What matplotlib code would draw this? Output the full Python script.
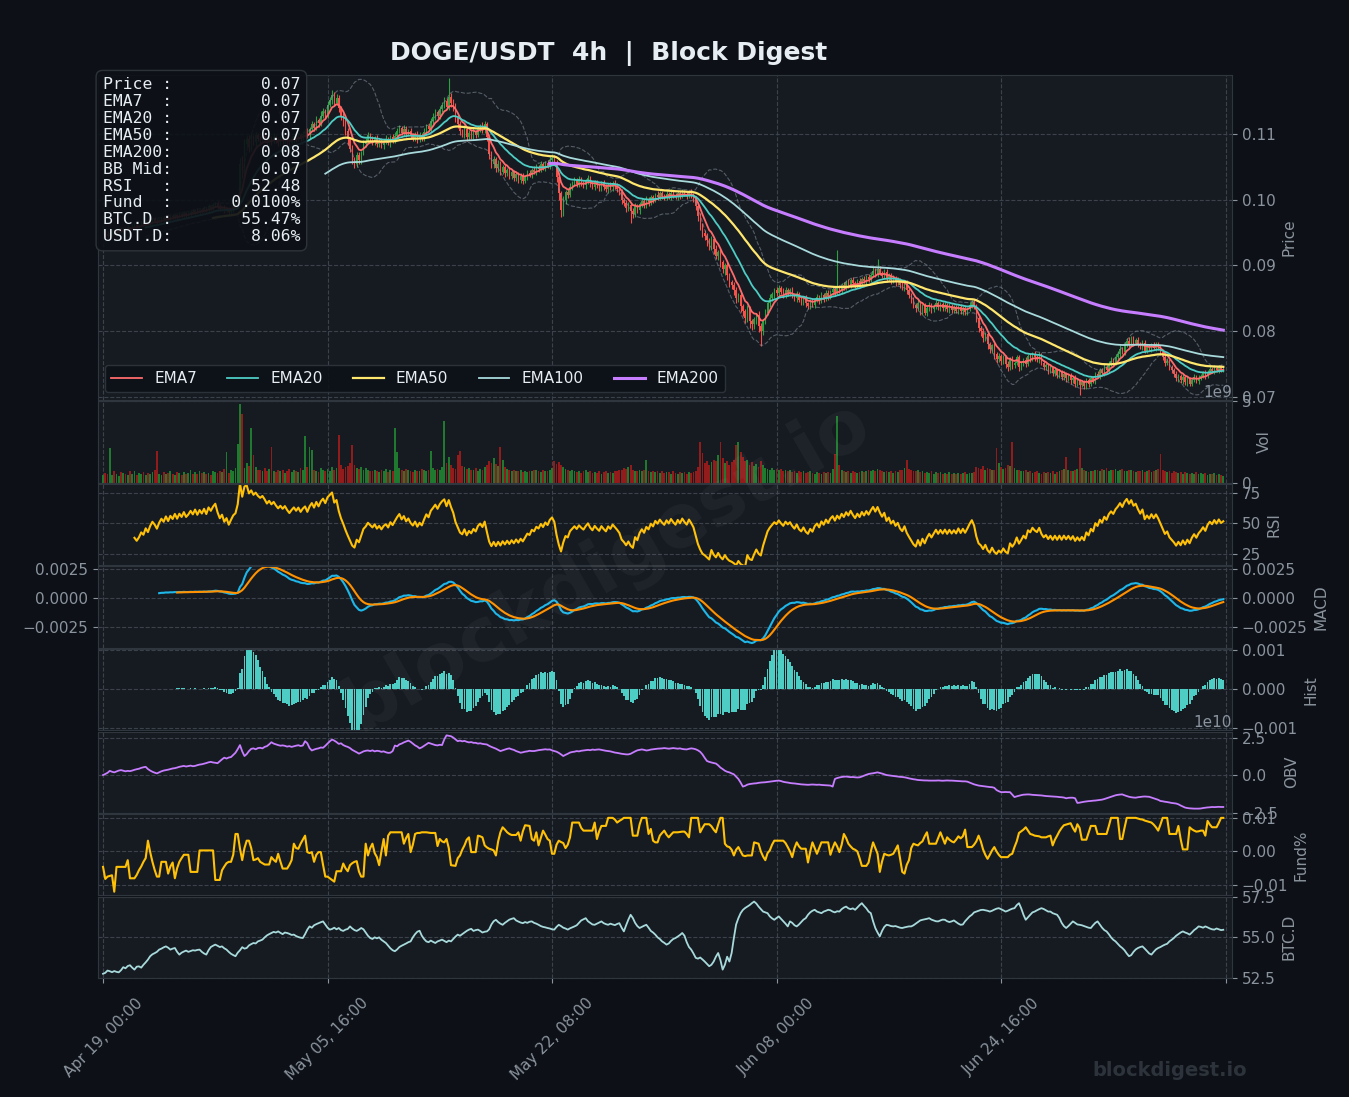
"""
DOGE/USDT 4h dashboard in the Block Digest dark style.

Candles with EMAs and Bollinger bands on top, then volume, RSI, MACD,
MACD histogram, OBV, funding rate and BTC dominance panels.
"""

import numpy as np
import pandas as pd
import matplotlib.pyplot as plt
from matplotlib.gridspec import GridSpec

BG = '#0d1117'
PANEL = '#161b22'
EDGE = '#30363d'
GRID = '#3b424b'
MUTED = '#8b949e'
TEXT = '#e6edf3'
UP = '#2ea043'
DOWN = '#f85149'
VOL_UP = '#1f7a30'
VOL_DOWN = '#921c1c'

START = '2025-04-19 00:00'

# close price, 1e-4 USDT
CLOSE_E4 = [
    952, 948, 945, 950, 953, 949, 951, 955, 953, 957,
    955, 958, 956, 960, 962, 959, 961, 964, 962, 966,
    963, 967, 970, 968, 965, 969, 972, 970, 974, 971,
    975, 973, 977, 974, 978, 976, 980, 977, 979, 982,
    980, 984, 981, 985, 983, 987, 984, 990, 988, 992,
    995, 990, 986, 989, 984, 987, 982, 986, 990, 992,
    1002, 1055, 1040, 1085, 1092, 1080, 1095, 1088, 1098, 1093,
    1090, 1097, 1092, 1086, 1094, 1089, 1096, 1091, 1087, 1093,
    1089, 1095, 1090, 1086, 1092, 1097, 1093, 1099, 1094, 1100,
    1104, 1098, 1108, 1115, 1110, 1122, 1117, 1128, 1135, 1130,
    1145, 1152, 1160, 1148, 1155, 1140, 1128, 1118, 1105, 1092,
    1078, 1062, 1055, 1068, 1060, 1072, 1085, 1090, 1098, 1093,
    1088, 1094, 1085, 1090, 1083, 1089, 1092, 1086, 1095, 1090,
    1097, 1104, 1110, 1102, 1108, 1100, 1105, 1098, 1094, 1100,
    1092, 1098, 1094, 1103, 1112, 1108, 1120, 1126, 1133, 1128,
    1138, 1145, 1150, 1142, 1157, 1148, 1140, 1125, 1115, 1104,
    1100, 1108, 1095, 1102, 1097, 1104, 1099, 1108, 1112, 1106,
    1115, 1095, 1070, 1055, 1062, 1048, 1055, 1043, 1050, 1040,
    1046, 1036, 1042, 1033, 1039, 1030, 1036, 1029, 1035, 1041,
    1038, 1046, 1043, 1050, 1047, 1054, 1049, 1056, 1052, 1060,
    1064, 1058, 1035, 1010, 985, 1000, 1012, 1008, 1020, 1025,
    1030, 1024, 1031, 1026, 1022, 1028, 1033, 1025, 1020, 1027,
    1022, 1018, 1025, 1020, 1016, 1023, 1019, 1025, 1021, 1017,
    1012, 1000, 995, 988, 992, 983, 978, 990, 984, 993,
    998, 992, 1000, 996, 1004, 1000, 1008, 1004, 1010, 1006,
    1003, 1009, 1005, 1011, 1007, 1004, 1010, 1006, 1012, 1008,
    1005, 1011, 1007, 1002, 990, 975, 962, 950, 945, 938,
    930, 940, 925, 915, 920, 905, 895, 900, 885, 875,
    870, 862, 850, 855, 838, 830, 820, 835, 815, 810,
    818, 825, 808, 800, 815, 828, 842, 850, 856, 862,
    858, 866, 860, 855, 863, 858, 862, 855, 850, 857,
    848, 844, 850, 842, 838, 845, 840, 848, 852, 846,
    855, 850, 858, 853, 860, 864, 858, 866, 862, 870,
    866, 874, 870, 878, 873, 869, 876, 872, 880, 876,
    883, 879, 886, 892, 887, 895, 889, 884, 890, 880,
    885, 877, 881, 874, 878, 870, 866, 872, 862, 855,
    848, 840, 835, 842, 830, 838, 828, 835, 840, 833,
    838, 843, 836, 841, 835, 840, 833, 838, 832, 836,
    831, 837, 830, 835, 829, 834, 840, 845, 838, 820,
    805, 800, 790, 795, 780, 772, 778, 765, 758, 762,
    755, 760, 750, 745, 757, 748, 752, 760, 745, 750,
    756, 750, 762, 758, 765, 760, 757, 763, 752, 745,
    748, 740, 744, 736, 741, 733, 738, 730, 735, 728,
    732, 725, 729, 720, 724, 718, 722, 716, 725, 720,
    728, 724, 735, 731, 740, 736, 745, 741, 750, 755,
    752, 760, 765, 772, 768, 778, 785, 780, 788, 782,
    786, 780, 775, 782, 770, 776, 772, 779, 774, 780,
    775, 768, 760, 752, 755, 745, 740, 735, 728, 732,
    725, 730, 722, 727, 720, 726, 730, 724, 729, 732,
    736, 731, 738, 742, 739, 744, 740, 745, 741, 743,
]

# wick above the body / below the body, 1e-4 USDT
WICK_UP_E4 = [
    3, 2, 4, 1, 3, 2, 5, 2, 3, 1,
    2, 4, 1, 3, 2, 3, 1, 4, 2, 3,
    3, 1, 2, 4, 3, 2, 1, 3, 2, 4,
    2, 3, 1, 2, 4, 2, 3, 1, 3, 2,
    4, 2, 3, 1, 2, 3, 2, 4, 1, 3,
    2, 3, 4, 2, 3, 1, 2, 3, 4, 5,
    6, 9, 12, 8, 5, 7, 6, 4, 5, 3,
    4, 3, 5, 2, 4, 3, 6, 2, 3, 4,
    3, 2, 4, 3, 5, 2, 3, 4, 2, 5,
    4, 6, 3, 5, 4, 6, 3, 7, 5, 4,
    6, 5, 7, 4, 6, 5, 3, 4, 6, 5,
    4, 6, 3, 5, 4, 3, 6, 4, 5, 3,
    4, 3, 5, 2, 4, 3, 6, 3, 4, 5,
    6, 5, 4, 3, 6, 4, 3, 5, 4, 3,
    4, 5, 3, 6, 4, 5, 4, 6, 5, 4,
    5, 4, 6, 5, 28, 6, 5, 7, 4, 5,
    4, 6, 3, 5, 4, 6, 3, 5, 4, 6,
    5, 4, 3, 5, 4, 3, 5, 4, 3, 4,
    3, 4, 5, 3, 4, 3, 5, 4, 3, 4,
    4, 3, 5, 4, 3, 5, 4, 3, 5, 6,
    5, 4, 3, 5, 4, 6, 3, 4, 5, 3,
    4, 3, 5, 4, 3, 4, 5, 3, 4, 3,
    3, 4, 3, 5, 4, 3, 4, 3, 5, 4,
    3, 4, 3, 5, 4, 3, 4, 5, 3, 4,
    4, 3, 5, 4, 3, 4, 3, 5, 4, 3,
    3, 4, 3, 5, 3, 4, 3, 4, 5, 3,
    4, 3, 5, 4, 3, 4, 5, 3, 4, 5,
    4, 5, 3, 6, 4, 5, 3, 4, 5, 4,
    3, 4, 5, 3, 4, 3, 4, 5, 3, 4,
    4, 3, 5, 4, 3, 5, 4, 6, 3, 4,
    5, 4, 3, 5, 4, 3, 4, 5, 3, 4,
    3, 4, 3, 5, 3, 4, 5, 3, 4, 3,
    4, 3, 5, 4, 3, 4, 5, 58, 4, 3,
    4, 3, 5, 3, 4, 3, 4, 5, 3, 4,
    3, 4, 3, 5, 4, 15, 4, 3, 5, 4,
    3, 4, 5, 3, 4, 3, 4, 3, 5, 4,
    3, 4, 3, 5, 4, 3, 4, 3, 4, 3,
    3, 4, 3, 4, 3, 5, 3, 4, 3, 4,
    4, 3, 4, 3, 5, 3, 4, 3, 4, 3,
    4, 3, 5, 4, 3, 4, 3, 4, 3, 4,
    3, 4, 3, 4, 3, 5, 3, 4, 3, 4,
    3, 4, 3, 4, 3, 4, 3, 5, 3, 4,
    3, 3, 4, 3, 4, 3, 4, 3, 4, 3,
    3, 4, 3, 4, 3, 3, 4, 3, 4, 3,
    3, 4, 3, 4, 3, 4, 5, 3, 4, 5,
    4, 5, 4, 6, 4, 5, 4, 6, 4, 5,
    4, 5, 4, 5, 4, 5, 4, 3, 4, 3,
    4, 3, 4, 3, 4, 3, 4, 3, 4, 3,
    3, 4, 3, 4, 3, 3, 4, 3, 4, 3,
    3, 4, 3, 4, 3, 4, 3, 4, 3, 2,
]
WICK_DN_E4 = [
    2, 4, 3, 2, 5, 3, 2, 4, 2, 3,
    3, 2, 4, 2, 3, 2, 4, 3, 2, 3,
    2, 3, 4, 2, 3, 1, 3, 2, 4, 2,
    3, 2, 3, 4, 2, 3, 2, 3, 2, 4,
    2, 3, 2, 4, 3, 2, 3, 2, 4, 3,
    3, 4, 2, 3, 4, 3, 5, 3, 4, 3,
    4, 5, 6, 4, 5, 7, 5, 4, 6, 4,
    5, 4, 3, 5, 4, 5, 3, 4, 5, 4,
    4, 3, 5, 4, 3, 4, 5, 3, 4, 3,
    5, 4, 6, 4, 5, 4, 6, 5, 4, 6,
    5, 4, 6, 5, 4, 7, 6, 5, 7, 8,
    6, 8, 7, 5, 6, 5, 4, 5, 4, 5,
    4, 5, 4, 5, 4, 5, 4, 3, 5, 4,
    4, 5, 3, 4, 5, 4, 3, 5, 4, 5,
    5, 4, 5, 4, 5, 4, 5, 4, 5, 4,
    5, 4, 5, 4, 5, 6, 5, 7, 6, 5,
    5, 6, 5, 4, 5, 4, 5, 4, 5, 4,
    5, 6, 8, 7, 6, 5, 6, 5, 4, 5,
    4, 5, 4, 5, 4, 5, 4, 5, 4, 5,
    4, 5, 4, 5, 4, 5, 4, 5, 4, 5,
    4, 5, 8, 10, 11, 9, 6, 5, 4, 5,
    4, 5, 4, 5, 4, 5, 4, 5, 4, 5,
    4, 5, 4, 5, 4, 5, 4, 5, 4, 5,
    5, 6, 5, 7, 5, 18, 6, 5, 4, 5,
    4, 5, 4, 5, 4, 5, 4, 5, 4, 5,
    4, 3, 4, 5, 4, 3, 4, 5, 4, 3,
    4, 3, 4, 5, 6, 7, 8, 6, 7, 8,
    6, 7, 8, 6, 7, 8, 6, 9, 7, 8,
    6, 7, 8, 6, 9, 7, 8, 6, 10, 8,
    7, 8, 9, 23, 6, 5, 4, 5, 4, 5,
    4, 5, 4, 5, 4, 5, 4, 5, 4, 5,
    4, 5, 4, 5, 4, 5, 4, 5, 4, 5,
    4, 5, 4, 5, 4, 5, 4, 3, 4, 5,
    4, 3, 4, 5, 4, 3, 4, 5, 4, 3,
    4, 5, 4, 3, 4, 5, 4, 3, 4, 5,
    4, 5, 4, 5, 4, 5, 4, 5, 6, 5,
    6, 5, 6, 5, 6, 5, 4, 5, 4, 5,
    4, 5, 4, 5, 4, 5, 4, 5, 4, 5,
    4, 5, 4, 5, 4, 5, 4, 5, 4, 6,
    6, 7, 6, 5, 7, 6, 5, 7, 6, 5,
    6, 5, 7, 6, 5, 6, 5, 4, 6, 5,
    4, 5, 4, 5, 4, 5, 4, 5, 4, 5,
    4, 5, 4, 5, 4, 5, 4, 5, 4, 5,
    4, 5, 4, 5, 4, 15, 4, 5, 4, 5,
    4, 3, 4, 3, 4, 3, 4, 3, 4, 3,
    3, 4, 3, 4, 3, 4, 3, 4, 3, 4,
    3, 4, 3, 4, 3, 4, 3, 4, 3, 4,
    4, 5, 4, 5, 4, 5, 4, 5, 4, 5,
    4, 5, 4, 5, 4, 3, 4, 3, 4, 3,
    3, 4, 3, 4, 3, 4, 3, 4, 3, 3,
]

# volume, 1e7 DOGE
VOLUME_E7 = [
    45, 60, 52, 210, 48, 70, 55, 40, 62, 58,
    50, 45, 68, 55, 72, 48, 60, 52, 66, 45,
    58, 50, 62, 75, 195, 55, 48, 65, 52, 60,
    70, 55, 48, 62, 58, 45, 66, 52, 60, 80,
    55, 62, 50, 70, 58, 65, 52, 60, 48, 72,
    65, 58, 70, 62, 85, 190, 60, 75, 68, 90,
    240, 484, 420, 90, 120, 100, 335, 170, 95, 80,
    75, 68, 90, 72, 85, 220, 70, 62, 80, 68,
    75, 60, 72, 85, 65, 78, 70, 62, 88, 75,
    284, 95, 220, 200, 80, 72, 65, 90, 78, 70,
    85, 72, 95, 80, 90, 290, 110, 85, 95, 100,
    120, 230, 105, 90, 85, 95, 80, 88, 75, 70,
    68, 80, 72, 65, 78, 70, 85, 62, 75, 68,
    335, 190, 90, 80, 72, 85, 78, 70, 65, 80,
    72, 68, 85, 75, 70, 80, 195, 90, 78, 85,
    80, 95, 377, 120, 160, 110, 90, 85, 170, 195,
    100, 95, 85, 90, 80, 75, 88, 70, 82, 78,
    95, 110, 130, 120, 150, 115, 100, 216, 140, 95,
    85, 78, 70, 80, 72, 68, 75, 62, 70, 65,
    72, 68, 75, 80, 70, 65, 78, 72, 68, 80,
    90, 130, 115, 125, 110, 95, 85, 80, 72, 78,
    70, 65, 72, 60, 68, 75, 62, 70, 58, 65,
    60, 68, 55, 62, 70, 58, 65, 60, 72, 68,
    75, 80, 90, 85, 95, 110, 80, 72, 68, 75,
    70, 78, 140, 72, 65, 70, 62, 68, 60, 72,
    58, 65, 62, 55, 68, 60, 52, 65, 58, 62,
    55, 62, 58, 65, 70, 95, 250, 180, 120, 135,
    110, 125, 140, 130, 170, 250, 150, 120, 135, 110,
    125, 140, 230, 250, 190, 160, 130, 140, 110, 125,
    100, 115, 95, 130, 105, 90, 85, 78, 92, 80,
    85, 75, 82, 70, 78, 68, 75, 65, 72, 60,
    68, 62, 70, 58, 65, 72, 60, 55, 62, 58,
    55, 62, 58, 65, 60, 85, 175, 407, 110, 75,
    70, 65, 72, 60, 68, 62, 58, 65, 70, 62,
    68, 75, 70, 80, 72, 85, 78, 70, 65, 72,
    62, 68, 60, 72, 65, 75, 80, 90, 140, 85,
    78, 72, 68, 75, 62, 70, 58, 65, 60, 68,
    55, 62, 58, 65, 52, 60, 55, 62, 50, 58,
    55, 60, 52, 58, 62, 55, 60, 58, 65, 95,
    90, 85, 100, 78, 92, 85, 75, 80, 210, 120,
    95, 85, 90, 110, 100, 250, 88, 80, 75, 70,
    68, 75, 62, 70, 58, 65, 72, 60, 55, 62,
    58, 65, 60, 68, 55, 62, 70, 75, 85, 160,
    80, 72, 68, 75, 82, 210, 90, 78, 70, 65,
    72, 68, 75, 80, 70, 85, 78, 90, 72, 80,
    75, 82, 70, 78, 85, 72, 68, 75, 80, 70,
    65, 72, 68, 75, 62, 70, 78, 65, 72, 80,
    85, 175, 78, 70, 65, 72, 60, 68, 62, 58,
    65, 55, 62, 58, 52, 60, 55, 62, 50, 58,
    52, 58, 48, 55, 50, 58, 45, 52, 48, 42,
]

# funding rate, 1e-4 percent
FUNDING_E4 = [
    -46, -82, -75, -73, -71, -120, -46, -46, -46, -46,
    -46, -26, -80, -80, -80, -70, -56, -45, -31, -20,
    32, -2, -31, -55, -75, -75, -31, -31, -31, -66,
    -45, -33, -80, -50, -31, -20, -10, -10, -10, -61,
    -61, -61, -61, 3, 3, 3, 3, 3, 3, 3,
    -85, -85, -85, -56, -45, -35, -31, -31, -10, 52,
    52, 8, -26, 10, 32, 32, 10, -26, -24, -20,
    -31, -35, -39, -39, -39, -17, -25, -31, -7, -30,
    -51, -51, -51, -40, -26, 23, 10, 8, 23, 35,
    47, -2, -5, -2, -31, -10, -2, -2, -40, -75,
    -75, -80, -85, -90, -59, -59, -59, -36, -50, -59,
    -41, -35, -31, -29, -60, -75, -75, 23, -12, 10,
    23, -5, -17, -41, 0, 37, -12, 47, 57, 57,
    57, 57, 57, 57, 23, 40, 52, -2, 20, 52,
    55, 55, 57, 57, 57, 56, 55, 55, 55, 16,
    37, 30, 27, 37, 10, -41, -42, -43, -20, -12,
    5, 18, 35, 42, -2, -2, -2, 47, 45, 42,
    18, 12, 8, 6, 3, -12, 30, 57, 72, 65,
    57, 52, 49, 49, 49, 57, 32, 60, 78, 77,
    76, 37, 32, 57, 18, 40, 62, 50, 37, 32,
    -7, -7, 20, 32, 28, 25, 10, 20, 42, 86,
    86, 86, 86, 70, 62, 62, 62, 62, 62, 86,
    37, 60, 76, 76, 76, 100, 100, 100, 95, 86,
    91, 95, 100, 100, 100, 100, 47, 47, 47, 80,
    100, 100, 100, 52, 67, 32, 27, 27, 47, 55,
    62, 50, 42, 50, 57, 57, 57, 58, 59, 59,
    52, 42, 100, 100, 100, 100, 57, 70, 81, 81,
    81, 75, 65, 57, 80, 100, 100, 23, 15, 13,
    5, -12, 5, 13, 0, -12, -14, -12, -12, -12,
    27, 25, 23, 0, -15, -26, -5, 3, 20, 32,
    32, 32, 32, 32, 25, 13, 0, -17, 10, 27,
    15, 8, 8, 8, -33, 0, 27, 10, -7, 10,
    27, 27, 27, 27, -10, 10, 27, 15, -2, 20,
    52, 40, 23, 15, 8, 5, 0, -20, -43, -43,
    -43, -33, 0, 27, 10, -7, -61, -30, -7, -10,
    -12, -10, -7, 5, 18, -20, -61, -66, -40, -26,
    10, 23, 20, 18, 25, 30, 45, 57, 23, 23,
    23, 23, 40, 57, 40, 23, 42, 35, 30, 27,
    35, 45, 39, 45, 65, 13, 13, 13, 20, 30,
    47, 30, 6, -10, -22, -10, 3, 13, 0, -10,
    -17, -17, -17, -17, -10, -7, 13, 30, 55, 60,
    65, 72, 62, 52, 50, 47, 46, 45, 42, 42,
    42, 45, 47, 18, 35, 47, 60, 70, 78, 80,
    82, 84, 70, 59, 81, 70, 35, 35, 35, 55,
    76, 76, 76, 52, 52, 52, 52, 52, 75, 100,
    100, 100, 100, 37, 37, 70, 100, 100, 100, 100,
    100, 98, 96, 95, 92, 90, 88, 86, 80, 72,
    62, 80, 100, 100, 100, 52, 52, 52, 52, 76,
    37, 6, 6, 6, 72, 66, 62, 59, 60, 62,
    62, 47, 91, 80, 72, 72, 72, 85, 100, 100,
]

# BTC dominance, 1e-2 percent
BTC_DOM_E2 = [
    5274, 5280, 5294, 5290, 5284, 5291, 5286, 5283, 5296, 5315,
    5308, 5322, 5327, 5312, 5300, 5318, 5320, 5312, 5330, 5345,
    5362, 5383, 5395, 5402, 5410, 5424, 5430, 5438, 5444, 5436,
    5424, 5430, 5434, 5410, 5393, 5405, 5412, 5418, 5410, 5415,
    5420, 5418, 5422, 5424, 5410, 5400, 5393, 5420, 5440, 5448,
    5455, 5448, 5440, 5444, 5432, 5424, 5410, 5398, 5390, 5383,
    5405, 5420, 5439, 5430, 5434, 5450, 5458, 5465, 5462, 5475,
    5480, 5486, 5500, 5512, 5520, 5527, 5534, 5530, 5537, 5528,
    5520, 5530, 5527, 5522, 5515, 5517, 5508, 5502, 5498, 5496,
    5520, 5548, 5568, 5560, 5575, 5582, 5588, 5594, 5599, 5580,
    5560, 5548, 5552, 5560, 5550, 5558, 5545, 5540, 5548, 5552,
    5568, 5555, 5545, 5540, 5548, 5558, 5550, 5530, 5510, 5496,
    5490, 5500, 5494, 5500, 5485, 5475, 5465, 5448, 5432, 5420,
    5414, 5425, 5440, 5448, 5455, 5462, 5470, 5475, 5500, 5520,
    5535, 5541, 5510, 5490, 5475, 5470, 5480, 5472, 5465, 5475,
    5480, 5486, 5478, 5470, 5480, 5475, 5490, 5505, 5517, 5510,
    5520, 5530, 5540, 5548, 5553, 5540, 5545, 5548, 5540, 5530,
    5535, 5537, 5550, 5580, 5600, 5609, 5595, 5585, 5578, 5590,
    5600, 5610, 5615, 5619, 5605, 5598, 5592, 5588, 5595, 5590,
    5597, 5599, 5590, 5585, 5578, 5570, 5565, 5562, 5558, 5555,
    5550, 5548, 5565, 5578, 5570, 5560, 5555, 5548, 5556, 5562,
    5568, 5575, 5590, 5605, 5612, 5619, 5600, 5590, 5580, 5578,
    5585, 5592, 5599, 5588, 5582, 5578, 5585, 5580, 5576, 5583,
    5588, 5560, 5537, 5575, 5610, 5640, 5620, 5590, 5570, 5558,
    5565, 5572, 5578, 5560, 5540, 5530, 5517, 5500, 5490, 5475,
    5466, 5455, 5462, 5478, 5490, 5496, 5505, 5515, 5527, 5510,
    5470, 5440, 5424, 5400, 5373, 5368, 5375, 5363, 5350, 5335,
    5321, 5330, 5350, 5380, 5403, 5360, 5300, 5330, 5380, 5350,
    5403, 5496, 5580, 5619, 5650, 5670, 5682, 5691, 5700, 5712,
    5722, 5710, 5691, 5675, 5660, 5655, 5650, 5630, 5618, 5609,
    5620, 5630, 5615, 5600, 5585, 5568, 5599, 5590, 5575, 5568,
    5580, 5595, 5610, 5619, 5640, 5655, 5665, 5671, 5660, 5655,
    5650, 5660, 5665, 5671, 5668, 5660, 5655, 5662, 5660, 5675,
    5685, 5691, 5680, 5675, 5680, 5671, 5685, 5700, 5712, 5695,
    5680, 5660, 5650, 5600, 5558, 5530, 5506, 5540, 5565, 5578,
    5575, 5570, 5568, 5570, 5565, 5560, 5558, 5562, 5565, 5568,
    5568, 5575, 5585, 5595, 5605, 5609, 5612, 5615, 5619, 5610,
    5605, 5600, 5599, 5605, 5610, 5609, 5600, 5595, 5599, 5605,
    5595, 5585, 5578, 5580, 5600, 5615, 5630, 5640, 5655, 5660,
    5665, 5670, 5671, 5668, 5665, 5660, 5665, 5672, 5678, 5681,
    5675, 5668, 5660, 5665, 5672, 5678, 5681, 5700, 5712, 5680,
    5640, 5609, 5625, 5640, 5655, 5660, 5668, 5675, 5681, 5676,
    5668, 5660, 5660, 5650, 5645, 5640, 5620, 5590, 5570, 5558,
    5570, 5585, 5599, 5590, 5580, 5578, 5575, 5570, 5565, 5560,
    5558, 5575, 5590, 5599, 5580, 5560, 5545, 5537, 5520, 5500,
    5485, 5475, 5460, 5445, 5434, 5420, 5400, 5383, 5390, 5410,
    5425, 5434, 5440, 5444, 5430, 5415, 5400, 5393, 5410, 5425,
    5434, 5440, 5448, 5455, 5460, 5475, 5485, 5496, 5510, 5520,
    5530, 5537, 5530, 5525, 5517, 5530, 5545, 5555, 5568, 5565,
    5560, 5568, 5562, 5555, 5550, 5548, 5555, 5550, 5545, 5547,
]

# on-balance volume, 1e8 DOGE
OBV_E8 = [
    0, 7, 15, 28, 22, 18, 24, 30, 33, 29,
    25, 28, 26, 30, 35, 39, 42, 48, 52, 55,
    40, 30, 22, 16, 11, 18, 25, 30, 33, 36,
    40, 44, 46, 50, 55, 58, 61, 57, 60, 63,
    59, 61, 66, 70, 72, 76, 80, 85, 88, 84,
    82, 79, 92, 105, 116, 110, 117, 120, 135, 149,
    173, 200, 158, 127, 140, 160, 175, 178, 172, 180,
    182, 178, 188, 193, 205, 219, 210, 205, 200, 196,
    198, 195, 190, 193, 188, 192, 196, 199, 194, 197,
    226, 212, 180, 164, 170, 175, 178, 184, 182, 195,
    210, 225, 237, 230, 220, 208, 212, 200, 193, 188,
    180, 168, 160, 152, 143, 150, 158, 162, 164, 160,
    165, 158, 162, 160, 155, 158, 152, 148, 149, 160,
    197, 192, 205, 210, 218, 224, 230, 222, 210, 198,
    190, 178, 185, 195, 205, 215, 210, 205, 200, 198,
    202, 200, 238, 265, 262, 259, 250, 238, 226, 230,
    225, 228, 222, 218, 220, 215, 215, 210, 212, 208,
    206, 204, 195, 188, 182, 176, 168, 160, 165, 170,
    175, 178, 172, 168, 160, 155, 149, 152, 156, 158,
    162, 160, 160, 163, 166, 168, 170, 172, 170, 171,
    165, 160, 156, 148, 138, 127, 135, 142, 150, 154,
    156, 160, 158, 162, 164, 166, 168, 166, 170, 168,
    170, 171, 168, 165, 162, 160, 158, 154, 150, 148,
    145, 142, 140, 138, 138, 142, 150, 158, 165, 168,
    171, 168, 164, 166, 170, 172, 174, 176, 177, 178,
    180, 178, 176, 178, 180, 178, 176, 178, 174, 172,
    171, 175, 178, 176, 172, 165, 155, 138, 115, 94,
    88, 84, 80, 77, 65, 50, 40, 29, 22, 18,
    11, 5, -10, -26, -50, -77, -72, -64, -60, -58,
    -56, -55, -52, -50, -49, -48, -46, -44, -42, -40,
    -38, -37, -40, -45, -48, -50, -53, -55, -56, -58,
    -60, -62, -63, -64, -65, -64, -63, -64, -65, -64,
    -66, -67, -68, -69, -70, -77, -26, -20, -16, -13,
    -11, -10, -12, -14, -13, -15, -16, -15, -10, -4,
    2, 7, 10, 12, 15, 18, 14, 10, 5, 0,
    -2, -4, -6, -8, -10, -12, -13, -15, -18, -22,
    -25, -28, -30, -33, -34, -35, -36, -36, -37, -37,
    -37, -37, -36, -37, -38, -37, -36, -37, -37, -38,
    -39, -40, -41, -42, -42, -44, -50, -56, -62, -66,
    -70, -72, -74, -76, -78, -80, -81, -85, -100, -108,
    -114, -114, -113, -114, -114, -130, -147, -142, -138, -134,
    -131, -130, -129, -130, -132, -133, -134, -135, -136, -138,
    -140, -141, -142, -143, -144, -145, -147, -148, -150, -155,
    -152, -151, -151, -155, -186, -184, -181, -178, -176, -174,
    -173, -171, -170, -168, -166, -164, -160, -155, -150, -145,
    -140, -135, -132, -130, -129, -135, -140, -145, -148, -150,
    -151, -148, -146, -144, -143, -144, -145, -150, -155, -160,
    -165, -173, -175, -178, -180, -183, -186, -188, -190, -195,
    -203, -210, -217, -220, -222, -223, -224, -224, -224, -223,
    -220, -218, -216, -215, -213, -214, -213, -212, -213, -213,
]

RSI_LAST = 52.48
USDT_DOM_LAST = 8.06

EMA_STYLE = {
    7: ('#ff6b6b', 1.3),
    20: ('#4ecdc4', 1.3),
    50: ('#ffe66d', 1.6),
    100: ('#a8dadc', 1.3),
    200: ('#c77dff', 2.2),
}


def ema(series, span):
    return series.ewm(span=span, adjust=False, min_periods=span).mean()


def rsi(series, period=14):
    delta = series.diff()
    gain = delta.clip(lower=0).ewm(alpha=1 / period, adjust=False, min_periods=period).mean()
    loss = (-delta.clip(upper=0)).ewm(alpha=1 / period, adjust=False, min_periods=period).mean()
    return 100 - 100 / (1 + gain / loss)


def style_axis(ax, label):
    ax.set_facecolor(PANEL)
    for spine in ax.spines.values():
        spine.set_color(EDGE)
    ax.grid(True, color=GRID, ls='--', lw=0.8)
    ax.set_axisbelow(True)
    ax.yaxis.tick_right()
    ax.yaxis.set_label_position('right')
    ax.tick_params(colors=MUTED, labelsize=11)
    ax.yaxis.get_offset_text().set_color(MUTED)
    ax.yaxis.get_offset_text().set_fontsize(11)
    ax.set_ylabel(label, color=MUTED, fontsize=11)


close = pd.Series(CLOSE_E4, dtype=float) * 1e-4
open_ = close.shift(1).fillna(close.iloc[0])
high = np.maximum(open_, close) + np.array(WICK_UP_E4) * 1e-4
low = np.minimum(open_, close) - np.array(WICK_DN_E4) * 1e-4
volume = np.array(VOLUME_E7, dtype=float) * 1e7
funding = np.array(FUNDING_E4, dtype=float) * 1e-4
btc_dom = np.array(BTC_DOM_E2, dtype=float) * 1e-2
obv = np.array(OBV_E8, dtype=float) * 1e8

x = np.arange(len(close))
dates = pd.date_range(START, periods=len(close), freq='4h')
up = (close >= open_).to_numpy()

emas = {span: ema(close, span) for span in EMA_STYLE}
bb_mid = close.rolling(20).mean()
bb_std = close.rolling(20).std()
rsi_line = rsi(close)
macd = close.ewm(span=12, adjust=False).mean() - close.ewm(span=26, adjust=False).mean()
macd[x < 25] = np.nan
signal = macd.ewm(span=9, adjust=False, min_periods=9).mean()
hist = macd - signal

fig = plt.figure(figsize=(13.49, 10.97), dpi=100, facecolor=BG)
gs = GridSpec(8, 1, figure=fig, height_ratios=[4, 1, 1, 1, 1, 1, 1, 1],
              hspace=0.012, left=0.0723, right=0.9133, top=0.9316, bottom=0.1085)
axes = [fig.add_subplot(gs[0])]
for i in range(1, 8):
    axes.append(fig.add_subplot(gs[i], sharex=axes[0]))
ax_p, ax_v, ax_r, ax_m, ax_h, ax_o, ax_f, ax_b = axes

# price panel
colors = np.where(up, UP, DOWN)
ax_p.vlines(x, low, high, colors=colors, lw=0.8, zorder=2)
body = np.maximum(np.abs(close - open_), 0.00004)
ax_p.bar(x, body, bottom=np.minimum(open_, close), width=0.6, color=colors, lw=0, zorder=2)
ax_p.plot(x, bb_mid + 2 * bb_std, color=MUTED, ls='--', lw=0.8, alpha=0.55, zorder=3)
ax_p.plot(x, bb_mid - 2 * bb_std, color=MUTED, ls='--', lw=0.8, alpha=0.55, zorder=3)
handles = []
for span, (col, lw) in EMA_STYLE.items():
    line, = ax_p.plot(x, emas[span], color=col, lw=lw, label=f'EMA{span}', zorder=4)
    handles.append(line)
ax_p.set_ylim(0.0695, 0.119)
ax_p.set_yticks([0.07, 0.08, 0.09, 0.10, 0.11])
leg = ax_p.legend(handles=handles, loc='lower left', ncol=5, fontsize=11,
                  facecolor=BG, edgecolor=EDGE, framealpha=0.9, labelcolor=TEXT)
leg.set_zorder(6)

info_rows = [
    ('Price', f'{close.iloc[-1]:.2f}'),
    ('EMA7', f'{emas[7].iloc[-1]:.2f}'),
    ('EMA20', f'{emas[20].iloc[-1]:.2f}'),
    ('EMA50', f'{emas[50].iloc[-1]:.2f}'),
    ('EMA200', f'{emas[200].iloc[-1]:.2f}'),
    ('BB Mid', f'{bb_mid.iloc[-1]:.2f}'),
    ('RSI', f'{RSI_LAST:.2f}'),
    ('Fund', f'{funding[-1]:.4f}%'),
    ('BTC.D', f'{btc_dom[-1]:.2f}%'),
    ('USDT.D', f'{USDT_DOM_LAST:.2f}%'),
]
info = '\n'.join(f'{name:<6}:{val:>13}' for name, val in info_rows)
ax_p.text(0.0045, 0.994, info, transform=ax_p.transAxes, va='top', ha='left',
          family='DejaVu Sans Mono', fontsize=11.8, linespacing=1.16, color=TEXT, zorder=7,
          bbox=dict(boxstyle='round,pad=0.4', facecolor=BG, edgecolor=EDGE, alpha=0.92))

# volume
ax_v.bar(x, volume, width=0.8, color=np.where(up, VOL_UP, VOL_DOWN), lw=0)
ax_v.set_ylim(0, 5e9)
ax_v.set_yticks([0, 5e9])

# RSI
ax_r.plot(x, rsi_line, color='#ffc107', lw=1.5)
ax_r.set_ylim(15.7, 82.6)
ax_r.set_yticks([25, 50, 75])

# MACD
ax_m.plot(x, macd, color='#1fb6e8', lw=1.5)
ax_m.plot(x, signal, color='#ff9100', lw=1.5)
ax_m.set_ylim(-0.0043, 0.0027)
ax_m.set_yticks([-0.0025, 0.0, 0.0025])

# histogram
ax_h.bar(x, hist, width=0.8, color='#4ecdc4', lw=0)
ax_h.set_ylim(-0.00105, 0.00103)
ax_h.set_yticks([-0.001, 0.0, 0.001])

# OBV
ax_o.plot(x, obv, color='#c77dff', lw=1.3)
ax_o.set_ylim(-2.52e10, 2.9e10)
ax_o.set_yticks([-2.5e10, 0, 2.5e10])

# funding
ax_f.plot(x, funding, color='#ffc107', lw=1.5)
ax_f.set_yticks([-0.01, 0.0, 0.01])

# BTC dominance
ax_b.plot(x, btc_dom, color='#a8dadc', lw=1.3)
ax_b.set_ylim(52.48, 57.52)
ax_b.set_yticks([52.5, 55.0, 57.5])

for ax, label in zip(axes, ['Price', 'Vol', 'RSI', 'MACD', 'Hist', 'OBV', 'Fund%', 'BTC.D']):
    style_axis(ax, label)
ax_m.tick_params(axis='y', left=True, labelleft=True)

tick_pos = list(range(0, 501, 100))
tick_lab = [dates[i].strftime('%b %d, %H:%M') if i < len(dates) else '' for i in tick_pos]
ax_b.set_xticks(tick_pos)
ax_b.set_xticklabels(tick_lab, rotation=45)
ax_b.tick_params(axis='x', pad=9)
ax_b.set_xlim(-2.45, 502.9)
for ax in axes[:-1]:
    ax.tick_params(axis='x', bottom=False, labelbottom=False)

fig.text(0.451, 0.951, 'DOGE/USDT  4h  |  Block Digest', ha='center', va='center',
         fontsize=18, fontweight='bold', color=TEXT)
fig.text(0.45, 0.485, 'blockdigest.io', ha='center', va='center', rotation=30,
         fontsize=54, fontweight='bold', color='white', alpha=0.04)
fig.text(0.867, 0.0246, 'blockdigest.io', ha='center', va='center',
         fontsize=14, fontweight='bold', color='#2d333b')

fig.savefig('out.png', dpi=100, facecolor=BG)
